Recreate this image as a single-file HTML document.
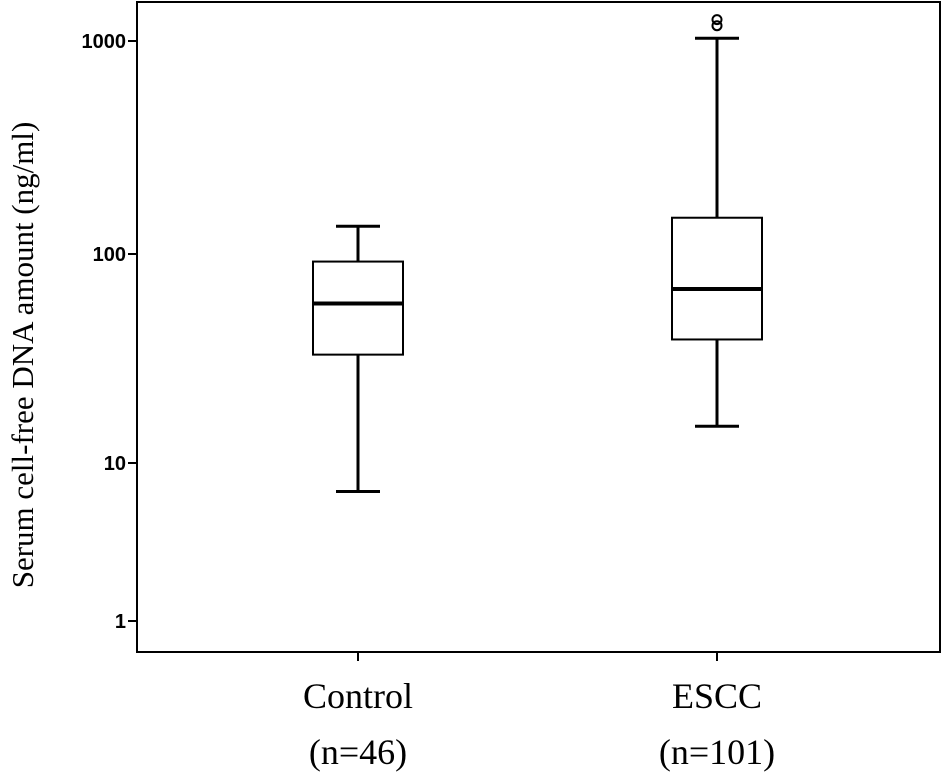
<!DOCTYPE html>
<html><head><meta charset="utf-8"><style>
html,body{margin:0;padding:0;background:#fff;}
svg{display:block;}
</style></head><body>
<svg id="chart" width="945" height="781" xmlns="http://www.w3.org/2000/svg">
<rect x="137" y="2" width="803" height="650" fill="#fff" stroke="#000" stroke-width="2"/>
<text transform="translate(33,355) rotate(-90)" text-anchor="middle" font-family="Liberation Serif, serif" font-size="31">Serum cell-free DNA amount (ng/ml)</text>
<g id="axes"></g>
<g id="marks"></g>
</svg>
<script>
const categories = ["Control", "ESCC"];
const countLabels = ["(n=46)", "(n=101)"];
const whiskerLow = [6.6, 15];
const q1 = [33, 39];
const medians = [58, 68];
const q3 = [92, 148];
const whiskerHigh = [135, 1030];
const outliers = [[], [1180, 1260]];
const tickValues = [1, 10, 100, 1000];
const tickLabels = ["1", "10", "100", "1000"];

const NS = "http://www.w3.org/2000/svg";
const tickPix = [621, 463, 254, 41];
function yScale(v){
  const lv = Math.log10(v);
  let i = Math.min(Math.max(Math.floor(lv), 0), 2);
  const t = lv - i;
  return tickPix[i] + (tickPix[i+1] - tickPix[i]) * t;
}
const xCenters = [358, 717];
function xScale(i){ return xCenters[i]; }
function mk(tag, attrs, parent){
  const e = document.createElementNS(NS, tag);
  for (const k in attrs) e.setAttribute(k, attrs[k]);
  parent.appendChild(e);
  return e;
}
const axes = document.getElementById('axes');
const marks = document.getElementById('marks');

tickValues.forEach((v, i) => {
  const y = yScale(v);
  const t = mk('line', {x1:128, x2:137, y1:y, y2:y, stroke:'#000', 'stroke-width':2}, axes);
  
  
  const l = mk('text', {x:126, y:y+7, 'text-anchor':'end', 'font-family':'Liberation Sans, sans-serif', 'font-size':20, 'font-weight':'bold'}, axes);
  l.textContent = tickLabels[i];
  
  
});

categories.forEach((c, i) => {
  const x = xScale(i);
  const t = mk('line', {x1:x, x2:x, y1:652, y2:661, stroke:'#000', 'stroke-width':2}, axes);
  
  
  const l = mk('text', {x:x, y:708, 'text-anchor':'middle', 'font-family':'Liberation Serif, serif', 'font-size':36}, axes);
  l.textContent = c;
  
  
  const n = mk('text', {x:x, y:764, 'text-anchor':'middle', 'font-family':'Liberation Serif, serif', 'font-size':36}, axes);
  n.textContent = countLabels[i];
  
  

  const hw = 45, cw = 22;
  const g = mk('g', {}, marks);
  
  
  mk('line', {x1:x, x2:x, y1:yScale(whiskerHigh[i]), y2:yScale(q3[i]), stroke:'#000', 'stroke-width':3}, g);
  mk('line', {x1:x, x2:x, y1:yScale(q1[i]), y2:yScale(whiskerLow[i]), stroke:'#000', 'stroke-width':3}, g);
  mk('line', {x1:x-cw, x2:x+cw, y1:yScale(whiskerHigh[i]), y2:yScale(whiskerHigh[i]), stroke:'#000', 'stroke-width':3}, g);
  mk('line', {x1:x-cw, x2:x+cw, y1:yScale(whiskerLow[i]), y2:yScale(whiskerLow[i]), stroke:'#000', 'stroke-width':3}, g);
  mk('rect', {x:x-hw, y:yScale(q3[i]), width:2*hw, height:yScale(q1[i])-yScale(q3[i]), fill:'#fff', stroke:'#000', 'stroke-width':2}, g);
  mk('line', {x1:x-hw, x2:x+hw, y1:yScale(medians[i]), y2:yScale(medians[i]), stroke:'#000', 'stroke-width':4}, g);
  outliers[i].forEach(o => {
    const c2 = mk('circle', {cx:x, cy:yScale(o), r:4.5, fill:'none', stroke:'#000', 'stroke-width':2}, g);
    
    
  });
});
</script>
</body></html>
